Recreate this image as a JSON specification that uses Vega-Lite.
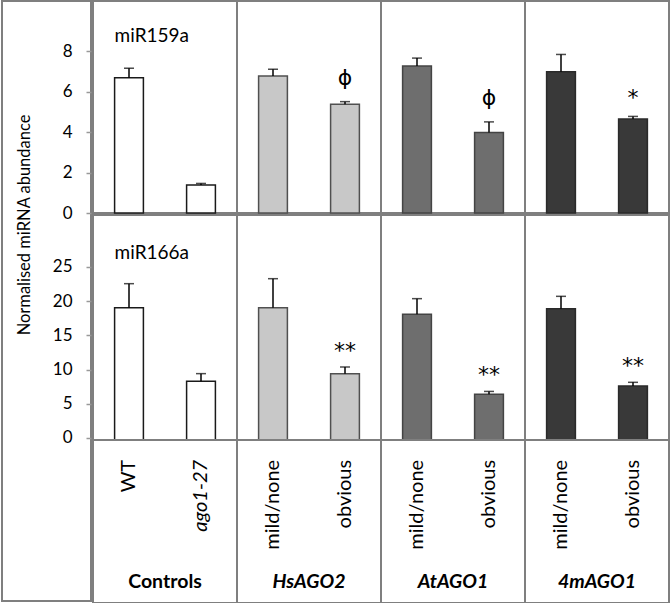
{
  "$schema": "https://vega.github.io/schema/vega-lite/v6.json",
  "padding": {"left": 1, "top": 0, "right": 2, "bottom": 1},
  "config": {
    "font": "Lato",
    "view": {"stroke": "#7f7f7f", "strokeWidth": 2},
    "text": {"color": "#000000"}
  },
  "datasets": {
    "bars": [
      {"mirna": "miR159a", "group": "Controls", "pos": "a", "label": "WT", "value": 6.68, "hi": 7.15, "sig": ""},
      {"mirna": "miR159a", "group": "Controls", "pos": "b", "label": "ago1-27", "value": 1.38, "hi": 1.46, "sig": ""},
      {"mirna": "miR159a", "group": "HsAGO2", "pos": "a", "label": "mild/none", "value": 6.76, "hi": 7.1, "sig": ""},
      {"mirna": "miR159a", "group": "HsAGO2", "pos": "b", "label": "obvious", "value": 5.37, "hi": 5.5, "sig": "ϕ"},
      {"mirna": "miR159a", "group": "AtAGO1", "pos": "a", "label": "mild/none", "value": 7.26, "hi": 7.65, "sig": ""},
      {"mirna": "miR159a", "group": "AtAGO1", "pos": "b", "label": "obvious", "value": 3.97, "hi": 4.5, "sig": "ϕ"},
      {"mirna": "miR159a", "group": "4mAGO1", "pos": "a", "label": "mild/none", "value": 6.98, "hi": 7.83, "sig": ""},
      {"mirna": "miR159a", "group": "4mAGO1", "pos": "b", "label": "obvious", "value": 4.64, "hi": 4.77, "sig": "*"},
      {"mirna": "miR166a", "group": "Controls", "pos": "a", "label": "WT", "value": 19.34, "hi": 22.85, "sig": ""},
      {"mirna": "miR166a", "group": "Controls", "pos": "b", "label": "ago1-27", "value": 8.58, "hi": 9.7, "sig": ""},
      {"mirna": "miR166a", "group": "HsAGO2", "pos": "a", "label": "mild/none", "value": 19.34, "hi": 23.58, "sig": ""},
      {"mirna": "miR166a", "group": "HsAGO2", "pos": "b", "label": "obvious", "value": 9.7, "hi": 10.67, "sig": "**"},
      {"mirna": "miR166a", "group": "AtAGO1", "pos": "a", "label": "mild/none", "value": 18.38, "hi": 20.66, "sig": ""},
      {"mirna": "miR166a", "group": "AtAGO1", "pos": "b", "label": "obvious", "value": 6.68, "hi": 7.1, "sig": "**"},
      {"mirna": "miR166a", "group": "4mAGO1", "pos": "a", "label": "mild/none", "value": 19.2, "hi": 21.0, "sig": ""},
      {"mirna": "miR166a", "group": "4mAGO1", "pos": "b", "label": "obvious", "value": 7.9, "hi": 8.43, "sig": "**"}
    ]
  },
  "spacing": -2,
  "hconcat": [
    {
      "width": 89,
      "height": 600,
      "data": {"values": [{"title": "Normalised miRNA abundance"}]},
      "mark": {"type": "text", "angle": 270, "align": "center", "baseline": "middle", "fontSize": 16.5, "dy": -21.5},
      "encoding": {
        "text": {"field": "title", "type": "nominal"},
        "y": {
          "datum": -0.59,
          "type": "quantitative",
          "scale": {"domain": [-19.16, 10.47], "nice": false, "zero": false},
          "axis": {
            "orient": "left",
            "offset": -89,
            "values": [0, 2, 4, 6, 8, -11.11, -9.4213, -7.7322, -6.0431, -4.354, -2.665],
            "labelExpr": "datum.value >= 0 ? datum.label : datum.value < -11 ? '0' : datum.value < -9 ? '5' : datum.value < -7 ? '10' : datum.value < -5 ? '15' : datum.value < -4 ? '20' : '25'",
            "domain": false,
            "grid": false,
            "title": null,
            "tickColor": "#999999",
            "tickSize": 5,
            "tickWidth": 1.5,
            "labelFontSize": 17,
            "labelPadding": 14,
            "labelColor": "#000000"
          }
        }
      }
    },
    {
      "spacing": -2,
      "vconcat": [
        {
          "data": {"name": "bars"},
          "transform": [{"filter": "datum.mirna == 'miR159a'"}],
          "spacing": 0,
          "bounds": "flush",
          "facet": {"column": {"field": "group", "type": "nominal", "sort": ["Controls", "HsAGO2", "AtAGO1", "4mAGO1"], "header": {"labels": false, "title": null}}},
          "spec": {
            "width": 144,
            "height": 212,
            "layer": [
              {
                "mark": {"type": "bar", "strokeWidth": 1.5},
                "encoding": {
                  "x": {"field": "pos", "type": "nominal", "scale": {"paddingInner": 0.6, "paddingOuter": 0.3}, "axis": null},
                  "y": {"field": "value", "type": "quantitative", "scale": {"domain": [0, 10.47], "nice": false, "zero": true}, "axis": null},
                  "fill": {"field": "group", "type": "nominal", "scale": {"domain": ["Controls", "HsAGO2", "AtAGO1", "4mAGO1"], "range": ["#ffffff", "#c8c8c8", "#6e6e6e", "#393939"]}, "legend": null},
                  "stroke": {"field": "group", "type": "nominal", "scale": {"domain": ["Controls", "HsAGO2", "AtAGO1", "4mAGO1"], "range": ["#1a1a1a", "#505050", "#444444", "#2a2a2a"]}, "legend": null}
                }
              },
              {
                "mark": {"type": "rule", "color": "#000000", "strokeWidth": 1.5},
                "encoding": {
                  "x": {"field": "pos", "type": "nominal"},
                  "y": {"field": "value", "type": "quantitative"},
                  "y2": {"field": "hi"}
                }
              },
              {
                "mark": {"type": "tick", "color": "#000000", "thickness": 1.5, "size": 10},
                "encoding": {
                  "x": {"field": "pos", "type": "nominal"},
                  "y": {"field": "hi", "type": "quantitative"}
                }
              },
              {
                "transform": [{"filter": "datum.sig == 'ϕ'"}],
                "mark": {"type": "text", "font": "DejaVu Sans", "fontSize": 22, "baseline": "alphabetic", "dy": -17},
                "encoding": {
                  "x": {"field": "pos", "type": "nominal"},
                  "y": {"field": "hi", "type": "quantitative"},
                  "text": {"field": "sig", "type": "nominal"}
                }
              },
              {
                "transform": [{"filter": "datum.sig == '*' || datum.sig == '**'"}],
                "mark": {"type": "text", "font": "DejaVu Sans", "fontSize": 22, "baseline": "alphabetic", "dy": -11},
                "encoding": {
                  "x": {"field": "pos", "type": "nominal"},
                  "y": {"field": "hi", "type": "quantitative"},
                  "text": {"field": "sig", "type": "nominal"}
                }
              },
              {
                "transform": [{"filter": "datum.group == 'Controls' && datum.pos == 'a'"}],
                "mark": {"type": "text", "align": "left", "baseline": "alphabetic", "fontSize": 19},
                "encoding": {
                  "x": {"field": "pos", "type": "nominal", "bandPosition": 0},
                  "y": {"datum": 8.45},
                  "text": {"field": "mirna", "type": "nominal"}
                }
              }
            ]
          }
        },
        {
          "data": {"name": "bars"},
          "transform": [{"filter": "datum.mirna == 'miR166a'"}],
          "spacing": 0,
          "bounds": "flush",
          "facet": {"column": {"field": "group", "type": "nominal", "sort": ["Controls", "HsAGO2", "AtAGO1", "4mAGO1"], "header": {"labels": false, "title": null}}},
          "spec": {
            "width": 144,
            "height": 388,
            "layer": [
              {
                "mark": {"type": "bar", "strokeWidth": 1.5},
                "encoding": {
                  "x": {"field": "pos", "type": "nominal", "scale": {"paddingInner": 0.6, "paddingOuter": 0.3}, "axis": null},
                  "y": {"field": "value", "type": "quantitative", "scale": {"domain": [-23.83, 32.89], "nice": false, "zero": true}, "axis": null},
                  "fill": {"field": "group", "type": "nominal", "scale": {"domain": ["Controls", "HsAGO2", "AtAGO1", "4mAGO1"], "range": ["#ffffff", "#c8c8c8", "#6e6e6e", "#393939"]}, "legend": null},
                  "stroke": {"field": "group", "type": "nominal", "scale": {"domain": ["Controls", "HsAGO2", "AtAGO1", "4mAGO1"], "range": ["#1a1a1a", "#505050", "#444444", "#2a2a2a"]}, "legend": null}
                }
              },
              {
                "mark": {"type": "rule", "color": "#7f7f7f", "strokeWidth": 2},
                "encoding": {"y": {"datum": 0, "type": "quantitative"}}
              },
              {
                "mark": {"type": "rule", "color": "#000000", "strokeWidth": 1.5},
                "encoding": {
                  "x": {"field": "pos", "type": "nominal"},
                  "y": {"field": "value", "type": "quantitative"},
                  "y2": {"field": "hi"}
                }
              },
              {
                "mark": {"type": "tick", "color": "#000000", "thickness": 1.5, "size": 10},
                "encoding": {
                  "x": {"field": "pos", "type": "nominal"},
                  "y": {"field": "hi", "type": "quantitative"}
                }
              },
              {
                "transform": [{"filter": "datum.sig == '*' || datum.sig == '**'"}],
                "mark": {"type": "text", "font": "DejaVu Sans", "fontSize": 22, "baseline": "alphabetic", "dy": -9},
                "encoding": {
                  "x": {"field": "pos", "type": "nominal"},
                  "y": {"field": "hi", "type": "quantitative"},
                  "text": {"field": "sig", "type": "nominal"}
                }
              },
              {
                "transform": [{"filter": "datum.group == 'Controls' && datum.pos == 'a'"}],
                "mark": {"type": "text", "align": "left", "baseline": "alphabetic", "fontSize": 19},
                "encoding": {
                  "x": {"field": "pos", "type": "nominal", "bandPosition": 0},
                  "y": {"datum": 26.45},
                  "text": {"field": "mirna", "type": "nominal"}
                }
              },
              {
                "transform": [{"filter": "datum.label != 'ago1-27'"}],
                "mark": {"type": "text", "angle": 270, "align": "right", "baseline": "middle", "fontSize": 20},
                "encoding": {
                  "x": {"field": "pos", "type": "nominal"},
                  "y": {"datum": -2.9},
                  "text": {"field": "label", "type": "nominal"}
                }
              },
              {
                "transform": [{"filter": "datum.label == 'ago1-27'"}],
                "mark": {"type": "text", "angle": 270, "align": "right", "baseline": "middle", "fontSize": 20, "fontStyle": "italic"},
                "encoding": {
                  "x": {"field": "pos", "type": "nominal"},
                  "y": {"datum": -2.9},
                  "text": {"field": "label", "type": "nominal"}
                }
              },
              {
                "transform": [{"filter": "datum.pos == 'a' && datum.group == 'Controls'"}],
                "mark": {"type": "text", "align": "center", "baseline": "alphabetic", "fontSize": 19.5, "fontWeight": "bold"},
                "encoding": {
                  "y": {"datum": -21.6},
                  "text": {"field": "group", "type": "nominal"}
                }
              },
              {
                "transform": [{"filter": "datum.pos == 'a' && datum.group != 'Controls'"}],
                "mark": {"type": "text", "align": "center", "baseline": "alphabetic", "fontSize": 19.5, "fontWeight": "bold", "fontStyle": "italic"},
                "encoding": {
                  "y": {"datum": -21.6},
                  "text": {"field": "group", "type": "nominal"}
                }
              }
            ]
          }
        }
      ]
    }
  ]
}
